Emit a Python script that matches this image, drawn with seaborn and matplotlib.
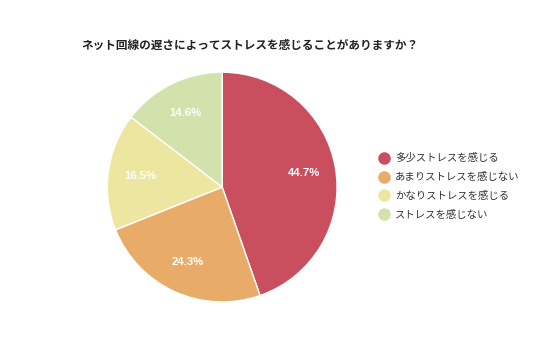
import matplotlib.pyplot as plt
import seaborn as sns
from matplotlib.lines import Line2D

# Data
labels = ["多少ストレスを感じる", "あまりストレスを感じない", "かなりストレスを感じる", "ストレスを感じない"]
values = [44.7, 24.3, 16.5, 14.6]
colors = ["#C94F5F", "#E8AC68", "#EDE6A0", "#D3E2AD"]
title = "ネット回線の遅さによってストレスを感じることがありますか？"

sns.set_theme(style="white")
plt.rcParams['font.family'] = ['Noto Sans CJK JP', 'DejaVu Sans']

fig = plt.figure(figsize=(5.36, 3.57), dpi=100)
ax = fig.add_axes([0.198, 0.151, 0.433, 0.65])

wedges, texts, autotexts = ax.pie(
    values, colors=colors, startangle=90, counterclock=False,
    autopct="%.1f%%", pctdistance=0.72,
    wedgeprops=dict(edgecolor="white", linewidth=1),
    textprops=dict(color="white", fontsize=8.2, fontweight="bold", family="Liberation Sans"),
)
ax.set_xlim(-1.01, 1.01)
ax.set_ylim(-1.01, 1.01)

fig.text(0.152, 0.872, title, fontsize=8.4, fontweight="bold", color="#222222", va="center")

handles = [Line2D([0], [0], marker="o", linestyle="", markersize=8,
                  markerfacecolor=c, markeredgecolor=c) for c in colors]
fig.legend(handles, labels, loc="upper left", bbox_to_anchor=(0.69, 0.583),
           frameon=False, fontsize=7.5, handletextpad=0.05, labelspacing=0.85,
           labelcolor="#333333", borderaxespad=0)

fig.savefig("out.png", dpi=100)
